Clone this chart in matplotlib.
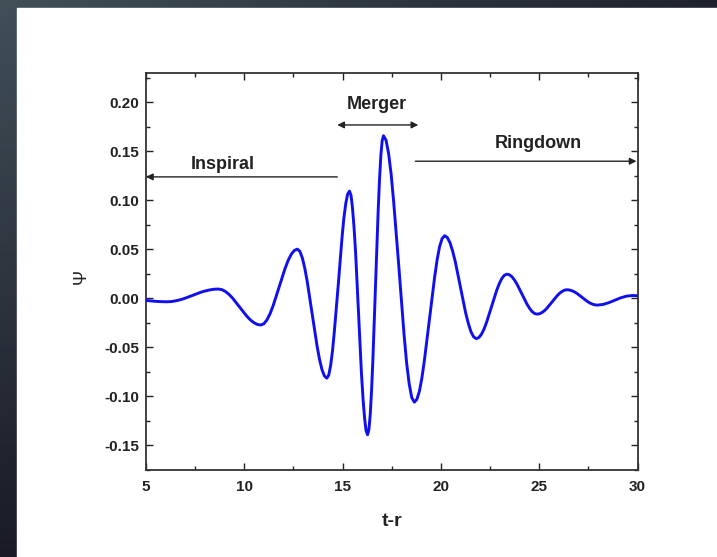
import numpy as np
import matplotlib
matplotlib.use("Agg")
import matplotlib.pyplot as plt
from matplotlib.ticker import MultipleLocator

# ---- data ----
t_r = [5.0, 5.35, 5.7,
       6.05, 6.27, 6.49, 6.71, 6.93, 7.37, 7.80, 8.02, 8.24, 8.46,
       8.68, 8.86, 9.04, 9.22, 9.40, 9.76, 10.12, 10.30, 10.48, 10.66,
       10.84, 10.995, 11.15, 11.305, 11.46, 11.77, 12.08, 12.235, 12.39, 12.545,
       12.70, 12.825, 12.95, 13.075, 13.20, 13.45, 13.70, 13.825, 13.95, 14.075,
       14.20, 14.296, 14.39, 14.4875, 14.58, 14.78, 14.97, 15.0625, 15.16, 15.254,
       15.35, 15.427, 15.50, 15.58, 15.66, 15.81, 15.96, 16.04, 16.12, 16.193,
       16.27, 16.3375, 16.405, 16.4725, 16.54, 16.675, 16.81, 16.8775, 16.945, 17.0125,
       17.08, 17.21, 17.34, 17.4725, 17.60, 17.87, 18.13, 18.2575, 18.39, 18.519,
       18.65, 18.778, 18.91, 19.035, 19.16, 19.42, 19.68, 19.805, 19.93, 20.062,
       20.19, 20.324, 20.46, 20.5925, 20.73, 20.995, 21.26, 21.3975, 21.53, 21.666,
       21.80, 21.93, 22.06, 22.19, 22.32, 22.58, 22.84, 22.97, 23.10, 23.23,
       23.36, 23.4875, 23.615, 23.7425, 23.87, 24.125, 24.38, 24.5075, 24.635, 24.7625,
       24.89, 25.0175, 25.145, 25.2725, 25.40, 25.655, 25.91, 26.0375, 26.165, 26.2925,
       26.42, 26.5475, 26.675, 26.8025, 26.93, 27.185, 27.44, 27.5675, 27.695, 27.8225,
       27.95, 28.25, 28.54, 28.84, 29.14, 29.43, 29.73, 30.0]
psi = [-0.0020, -0.0027, -0.0032,
       -0.0034, -0.0032, -0.0025, -0.0015, -0.0002, 0.0031, 0.0064, 0.0077, 0.0087, 0.0094,
       0.0096, 0.0090, 0.0071, 0.0042, 0.0004, -0.0088, -0.0179, -0.0217, -0.0246, -0.0265,
       -0.0271, -0.0258, -0.0219, -0.0158, -0.0078, 0.0116, 0.0310, 0.0390, 0.0451, 0.0490,
       0.0503, 0.0481, 0.0415, 0.0310, 0.0174, -0.0155, -0.0484, -0.0620, -0.0725, -0.0791,
       -0.0813, -0.0781, -0.0685, -0.0534, -0.0336, 0.0141, 0.0618, 0.0816, 0.0967, 0.1063,
       0.1095, 0.1053, 0.0929, 0.0731, 0.0474, -0.0148, -0.0769, -0.1026, -0.1224, -0.1348,
       -0.1390, -0.1338, -0.1186, -0.0943, -0.0627, 0.0135, 0.0898, 0.1213, 0.1456, 0.1608,
       0.1660, 0.1614, 0.1478, 0.1262, 0.0980, 0.0301, -0.0379, -0.0660, -0.0876, -0.1012,
       -0.1058, -0.1029, -0.0944, -0.0809, -0.0633, -0.0209, 0.0216, 0.0391, 0.0526, 0.0611,
       0.0640, 0.0622, 0.0570, 0.0486, 0.0377, 0.0115, -0.0148, -0.0256, -0.0340, -0.0392,
       -0.0410, -0.0399, -0.0366, -0.0314, -0.0245, -0.0081, 0.0084, 0.0152, 0.0204, 0.0237,
       0.0248, 0.0241, 0.0221, 0.0188, 0.0146, 0.0044, -0.0058, -0.0100, -0.0133, -0.0153,
       -0.0160, -0.0156, -0.0143, -0.0124, -0.0098, -0.0035, 0.0027, 0.0053, 0.0072, 0.0085,
       0.0089, 0.0086, 0.0078, 0.0066, 0.0050, 0.0010, -0.0029, -0.0045, -0.0057, -0.0065,
       -0.0068, -0.0061, -0.0043, -0.0019, 0.0006, 0.0023, 0.0030, 0.0028]

x_ticks = [5, 10, 15, 20, 25, 30]
y_ticks = [-0.15, -0.10, -0.05, 0.00, 0.05, 0.10, 0.15, 0.20]
y_tick_labels = ["-0.15", "-0.10", "-0.05", "0.00", "0.05", "0.10", "0.15", "0.20"]

phase_labels = ["Inspiral", "Merger", "Ringdown"]

plt.rcParams['font.family'] = ['Liberation Sans', 'DejaVu Sans']

fig = plt.figure(figsize=(7.17, 5.57), dpi=100)

# dark gradient slide background
bg = fig.add_axes([0, 0, 1, 1])
bg.set_axis_off()
tl = np.array([0.255, 0.310, 0.345])
tr = np.array([0.115, 0.135, 0.180])
bl = np.array([0.100, 0.105, 0.150])
br = np.array([0.100, 0.105, 0.150])
u = np.linspace(0, 1, 64)[None, :, None]
v = np.linspace(0, 1, 64)[:, None, None]
grad = (1 - v) * ((1 - u) * tl + u * tr) + v * ((1 - u) * bl + u * br)
bg.imshow(grad, extent=[0, 1, 0, 1], aspect='auto', origin='upper')
bg.add_patch(plt.Rectangle((17 / 717, 0), 1, 1 - 8 / 557, color='white', zorder=3))
bg.set_xlim(0, 1)
bg.set_ylim(0, 1)

ax = fig.add_axes([146 / 717, 1 - 470 / 557, (637.5 - 146) / 717, (470 - 73) / 557])
ax.plot(t_r, psi, color='#1010ee', lw=2.1, solid_capstyle='round',
        solid_joinstyle='round', zorder=3)

ax.set_xlim(5, 30)
ax.set_ylim(-0.175, 0.23)
ax.set_xticks(x_ticks)
ax.set_yticks(y_ticks)
ax.set_yticklabels(y_tick_labels)
ax.xaxis.set_minor_locator(MultipleLocator(2.5))
ax.yaxis.set_minor_locator(MultipleLocator(0.025))
ax.tick_params(which='both', direction='in', top=True, right=True,
               colors='#222222', width=1.0)
ax.tick_params(which='major', length=5, labelsize=11)
ax.tick_params(axis='y', which='major', pad=5)
ax.tick_params(axis='x', which='major', pad=7)
ax.tick_params(which='minor', length=3)
for lab in ax.get_xticklabels() + ax.get_yticklabels():
    lab.set_fontweight('bold')
for s in ax.spines.values():
    s.set_linewidth(1.3)
    s.set_color('#333333')

ax.set_xlabel('t-r', fontsize=14, fontweight='bold', color='#222222', labelpad=14)
ax.set_ylabel('Ψ', fontsize=13, color='#222222')
ax.yaxis.set_label_coords((81 - 146) / (637.5 - 146), (470 - 276) / (470 - 73))
ax.yaxis.label.set_va('center')

arrow_kw = dict(arrowstyle='-|>', color='#222222', lw=1.0, mutation_scale=10,
                shrinkA=0, shrinkB=0)
# Inspiral
ax.annotate('', xy=(5.0, 0.124), xytext=(14.73, 0.124), arrowprops=arrow_kw)
ax.text(8.9, 0.137, phase_labels[0], ha='center', va='center', fontsize=13,
        fontweight='bold', color='#222222')
# Merger
ax.annotate('', xy=(14.73, 0.177), xytext=(18.85, 0.177),
            arrowprops=dict(arrowstyle='<|-|>', color='#222222', lw=1.0,
                            mutation_scale=10, shrinkA=0, shrinkB=0))
ax.text(16.76, 0.198, phase_labels[1], ha='center', va='center', fontsize=13,
        fontweight='bold', color='#222222')
# Ringdown
ax.annotate('', xy=(29.95, 0.140), xytext=(18.70, 0.140), arrowprops=arrow_kw)
ax.text(24.96, 0.158, phase_labels[2], ha='center', va='center', fontsize=13,
        fontweight='bold', color='#222222')

fig.savefig('out.png', dpi=100)
